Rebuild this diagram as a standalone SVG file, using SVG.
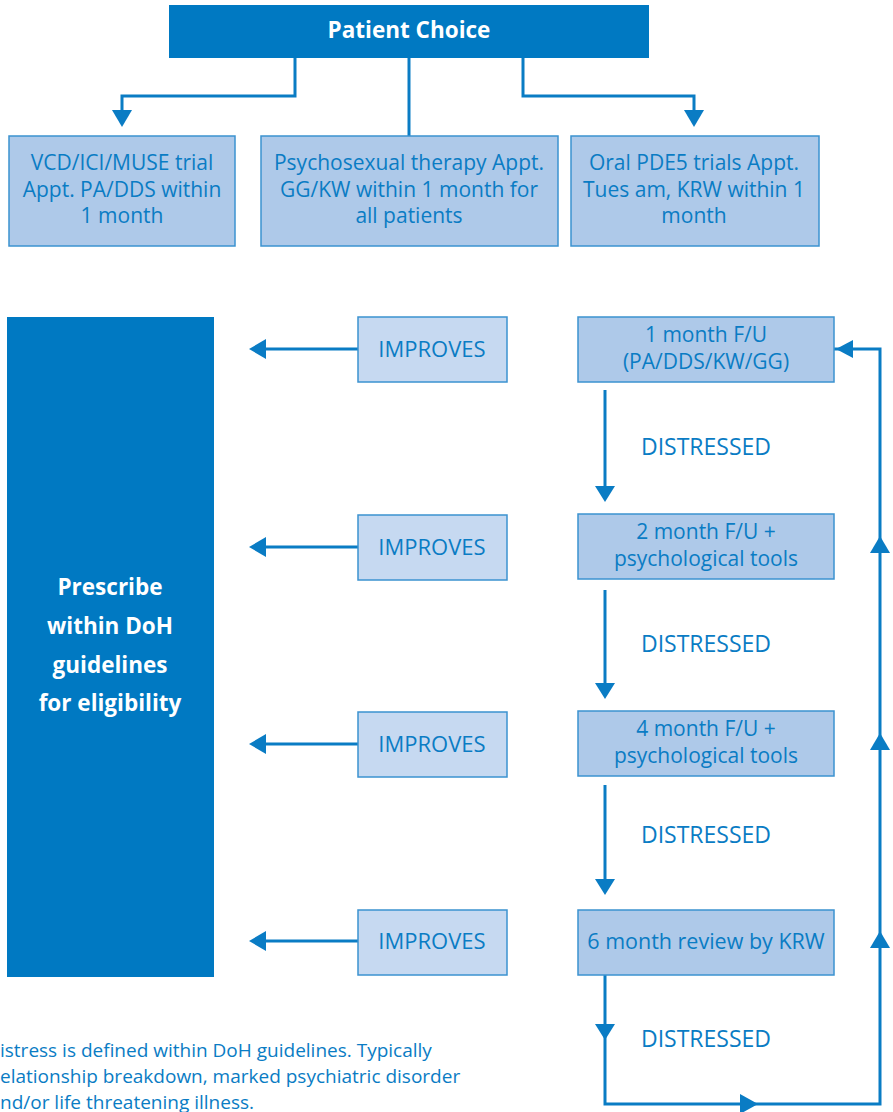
<svg xmlns="http://www.w3.org/2000/svg" width="893" height="1112" viewBox="0 0 893 1112">
<defs>
<style>
.t{font-family:"Open Sans","Noto Sans","Liberation Sans",sans-serif;fill:#0a7cc4;text-anchor:middle}
.b{fill:#aec9e9;stroke:#3b92d0;stroke-width:1.5}
.i{fill:#c6d9f1;stroke:#3b92d0;stroke-width:1.5}
.c{fill:none;stroke:#0a7cc4;stroke-width:3}
.w{font-family:"Open Sans","Noto Sans","Liberation Sans",sans-serif;fill:#fff;font-weight:bold;text-anchor:middle}
</style>
</defs>
<rect width="893" height="1112" fill="#fff"/>
<g id="connectors">
<path class="c" d="M295,58V96H122V110" />
<path d="M112,110H132L122,127z" fill="#0a7cc4"/>
<path class="c" d="M409,58V136"/>
<path class="c" d="M523,58V96H694V110"/>
<path d="M684,110H704L694,127z" fill="#0a7cc4"/>
<path class="c" d="M358,349H266"/><path d="M266,339V359L249,349z" fill="#0a7cc4"/>
<path class="c" d="M358,547H266"/><path d="M266,537V557L249,547z" fill="#0a7cc4"/>
<path class="c" d="M358,744H266"/><path d="M266,734V754L249,744z" fill="#0a7cc4"/>
<path class="c" d="M358,941H266"/><path d="M266,931V951L249,941z" fill="#0a7cc4"/>
<path class="c" d="M605,390V486"/><path d="M595,486H615L605,502z" fill="#0a7cc4"/>
<path class="c" d="M605,590V683"/><path d="M595,683H615L605,699z" fill="#0a7cc4"/>
<path class="c" d="M605,785V879"/><path d="M595,879H615L605,895z" fill="#0a7cc4"/>
<path class="c" d="M605,975V1104H880V349H834"/>
<path d="M595,1024H615L605,1040z" fill="#0a7cc4"/>
<path d="M740,1094V1114L758,1104z" fill="#0a7cc4"/>
<path d="M870,553H890L880,536z" fill="#0a7cc4"/>
<path d="M870,750H890L880,733z" fill="#0a7cc4"/>
<path d="M870,948H890L880,931z" fill="#0a7cc4"/>
<path d="M853,340V358L836,349z" fill="#0a7cc4"/>
</g>
<g id="patient-choice"><rect x="169" y="5" width="480" height="53" fill="#0079c2"/><text class="w" x="409" y="38" font-size="22.5">Patient Choice</text></g>
<g id="vcd"><rect class="b" x="9" y="136" width="226" height="110"/><text class="t" font-size="21"><tspan x="122" y="170">VCD/ICI/MUSE trial</tspan><tspan x="122" y="197">Appt. PA/DDS within</tspan><tspan x="122" y="223">1 month</tspan></text></g>
<g id="psycho"><rect class="b" x="261" y="136" width="297" height="110"/><text class="t" font-size="21"><tspan x="409" y="170">Psychosexual therapy Appt.</tspan><tspan x="409" y="197">GG/KW within 1 month for</tspan><tspan x="409" y="223">all patients</tspan></text></g>
<g id="oral"><rect class="b" x="571" y="136" width="248" height="110"/><text class="t" font-size="21"><tspan x="694" y="170">Oral PDE5 trials Appt.</tspan><tspan x="694" y="197">Tues am, KRW within 1</tspan><tspan x="694" y="223">month</tspan></text></g>
<g id="prescribe"><rect x="7" y="317" width="207" height="660" fill="#0079c2"/><text class="w" font-size="22.5"><tspan x="110" y="595">Prescribe</tspan><tspan x="110" y="634">within DoH</tspan><tspan x="110" y="673">guidelines</tspan><tspan x="110" y="711">for eligibility</tspan></text></g>
<g id="imp1"><rect class="i" x="358" y="317" width="149" height="65"/><text class="t" x="432" y="357" font-size="22">IMPROVES</text></g>
<g id="imp2"><rect class="i" x="358" y="515" width="149" height="65"/><text class="t" x="432" y="555" font-size="22">IMPROVES</text></g>
<g id="imp3"><rect class="i" x="358" y="712" width="149" height="65"/><text class="t" x="432" y="752" font-size="22">IMPROVES</text></g>
<g id="imp4"><rect class="i" x="358" y="910" width="149" height="65"/><text class="t" x="432" y="949" font-size="22">IMPROVES</text></g>
<g id="fu1"><rect class="b" x="578" y="317" width="256" height="65"/><text class="t" font-size="21"><tspan x="706" y="342">1 month F/U</tspan><tspan x="706" y="369">(PA/DDS/KW/GG)</tspan></text></g>
<g id="fu2"><rect class="b" x="578" y="514" width="256" height="65"/><text class="t" font-size="21"><tspan x="706" y="539">2 month F/U +</tspan><tspan x="706" y="566">psychological tools</tspan></text></g>
<g id="fu4"><rect class="b" x="578" y="711" width="256" height="65"/><text class="t" font-size="21"><tspan x="706" y="736">4 month F/U +</tspan><tspan x="706" y="763">psychological tools</tspan></text></g>
<g id="fu6"><rect class="b" x="578" y="910" width="256" height="65"/><text class="t" x="706" y="949" font-size="21.5">6 month review by KRW</text></g>
<g id="labels">
<text class="t" x="706" y="455" font-size="23">DISTRESSED</text>
<text class="t" x="706" y="652" font-size="23">DISTRESSED</text>
<text class="t" x="706" y="843" font-size="23">DISTRESSED</text>
<text class="t" x="706" y="1047" font-size="23">DISTRESSED</text>
</g>
<g id="note"><text class="t" font-size="19" style="text-anchor:start"><tspan x="0" y="1057">istress is defined within DoH guidelines. Typically</tspan><tspan x="0" y="1083">elationship breakdown, marked psychiatric disorder</tspan><tspan x="0" y="1109">nd/or life threatening illness.</tspan></text></g>
</svg>
